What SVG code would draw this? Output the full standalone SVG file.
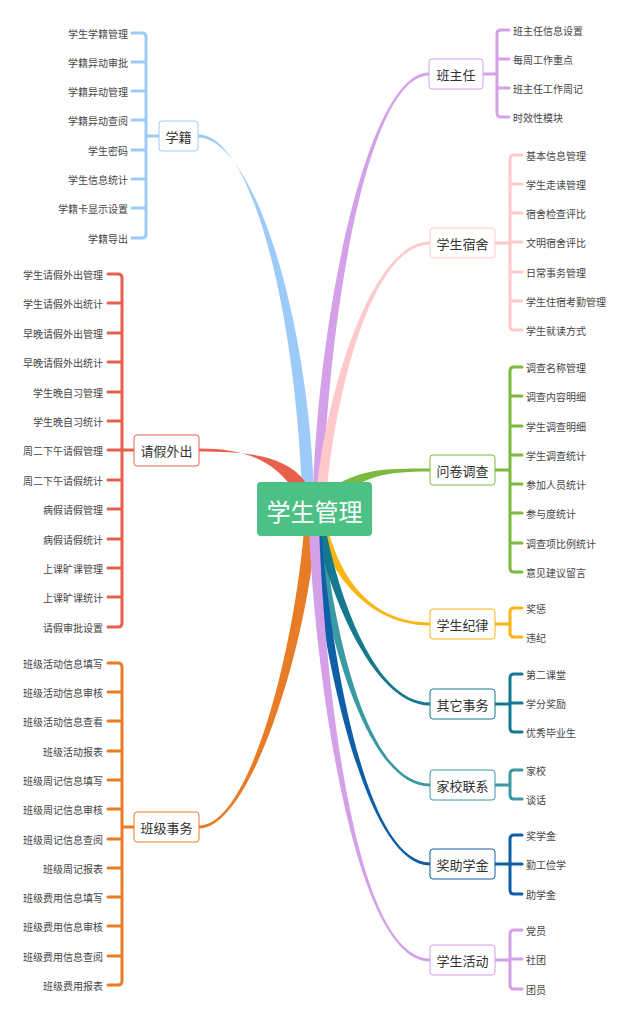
<svg xmlns="http://www.w3.org/2000/svg" width="632" height="1024" viewBox="0 0 632 1024">
<style>
.n rect{fill:#fff;stroke-width:1;rx:3}
.n text{font-family:"Noto Sans CJK SC","Noto Sans",sans-serif;font-size:13px;fill:#333;text-anchor:middle;dominant-baseline:central}
.l{font-family:"Noto Sans CJK SC","Noto Sans",sans-serif;font-size:10px;fill:#444;dominant-baseline:central}
.L{text-anchor:end}
.b{fill:none;stroke-width:3;stroke-linecap:round;stroke-linejoin:round}
</style>
<rect width="632" height="1024" fill="#fff"/>
<g id="connectors">
<path fill="#9dcbf9" d="M198,134.5 C250,134.5 294,300 302,490 L314,490 C306,300 250,137.5 198,137.5 Z"/>
<path fill="#e8604c" d="M199,448.5 C250,448.5 275,463 294,490 L305,481 C285,456 250,451.5 199,451.5 Z"/>
<path fill="#e87c26" d="M199,825.5 C250,825.5 294,650 304,530 L316,530 C306,650 250,828.5 199,828.5 Z"/>
<path fill="#d4a1e8" d="M429,72.5 C370,72.5 320,300 313,490 L323,490 C330,300 370,75.5 429,75.5 Z"/>
<path fill="#ffc9cc" d="M430,241.5 C370,241.5 325,400 317,490 L327,490 C335,400 370,244.5 430,244.5 Z"/>
<path fill="#7cba3d" d="M430,468.5 C380,468.5 360,469 326,491 L334,499 C367,477 380,471.5 430,471.5 Z"/>
<path fill="#fbb614" d="M430,622.5 C360,622.5 335,560 327,525 L317,525 C325,560 360,625.5 430,625.5 Z"/>
<path fill="#3a9aa3" d="M430,783.5 C360,783.5 330,600 323,525 L313,525 C320,600 360,786.5 430,786.5 Z"/>
<path fill="#14788f" d="M430,702.5 C370,702.5 335,580 325,525 L315,525 C325,580 370,705.5 430,705.5 Z"/>
<path fill="#0f5ea8" d="M430,862.5 C360,862.5 327,620 321,525 L311,525 C317,620 360,865.5 430,865.5 Z"/>
<path fill="#d4a1e8" d="M430,958.5 C350,958.5 323,650 319,525 L309,525 C313,650 350,961.5 430,961.5 Z"/>
<path class="b" stroke="#9dcbf9" d="M132,33 H142 Q146,33 146,37 V234 Q146,238 142,238 H132 M132,62 H146 M132,91 H146 M132,120 H146 M132,150 H146 M132,179 H146 M132,208 H146 M146,136 H159"/>
<path class="b" stroke="#e8604c" d="M108,274 H118 Q122,274 122,278 V623 Q122,627 118,627 H108 M108,303 H122 M108,333 H122 M108,362 H122 M108,392 H122 M108,421 H122 M108,450 H122 M108,480 H122 M108,509 H122 M108,539 H122 M108,568 H122 M108,597 H122 M122,450 H134"/>
<path class="b" stroke="#e87c26" d="M108,663 H118 Q122,663 122,667 V981 Q122,985 118,985 H108 M108,692 H122 M108,721 H122 M108,751 H122 M108,780 H122 M108,809 H122 M108,839 H122 M108,868 H122 M108,897 H122 M108,926 H122 M108,956 H122 M122,827 H134"/>
<path class="b" stroke="#d4a1e8" d="M509,30 H501 Q497,30 497,34 V113 Q497,117 501,117 H509 M509,59 H497 M509,88 H497 M497,74 H483"/>
<path class="b" stroke="#ffc9cc" d="M522,155 H514 Q510,155 510,159 V326 Q510,330 514,330 H522 M522,184 H510 M522,213 H510 M522,242 H510 M522,272 H510 M522,301 H510 M510,243 H495"/>
<path class="b" stroke="#7cba3d" d="M522,367 H514 Q510,367 510,371 V568 Q510,572 514,572 H522 M522,396 H510 M522,426 H510 M522,455 H510 M522,484 H510 M522,513 H510 M522,543 H510 M510,470 H495"/>
<path class="b" stroke="#fbb614" d="M522,608 H514 Q510,608 510,612 V633 Q510,637 514,637 H522 M510,624 H495"/>
<path class="b" stroke="#14788f" d="M522,674 H514 Q510,674 510,678 V728 Q510,732 514,732 H522 M522,703 H510 M510,704 H495"/>
<path class="b" stroke="#3a9aa3" d="M522,770 H514 Q510,770 510,774 V795 Q510,799 514,799 H522 M510,785 H495"/>
<path class="b" stroke="#0f5ea8" d="M522,835 H514 Q510,835 510,839 V890 Q510,894 514,894 H522 M522,864 H510 M510,864 H495"/>
<path class="b" stroke="#d4a1e8" d="M522,930 H514 Q510,930 510,934 V985 Q510,989 514,989 H522 M522,959 H510 M510,960 H495"/>
</g>
<g id="root"><rect x="257" y="482" width="115" height="54" rx="4" fill="#4dc086"/><text x="314.5" y="510" font-family="Noto Sans CJK SC,sans-serif" font-size="24" fill="#fff" text-anchor="middle" dominant-baseline="central">学生管理</text></g>
<g id="n-xueji" class="n"><rect x="159" y="121" width="39" height="30" stroke="#9dcbf9"/><text x="178.5" y="136">学籍</text></g>
<g id="n-qingjia" class="n"><rect x="134" y="435" width="65" height="31" stroke="#e8604c"/><text x="166.5" y="450">请假外出</text></g>
<g id="n-banji" class="n"><rect x="134" y="812" width="65" height="30" stroke="#e87c26"/><text x="166.5" y="827">班级事务</text></g>
<g id="n-bzr" class="n"><rect x="429" y="59" width="54" height="30" stroke="#d4a1e8"/><text x="456" y="74">班主任</text></g>
<g id="n-sushe" class="n"><rect x="430" y="228" width="65" height="30" stroke="#ffc9cc"/><text x="462.5" y="243">学生宿舍</text></g>
<g id="n-wenjuan" class="n"><rect x="430" y="455" width="65" height="30" stroke="#7cba3d"/><text x="462.5" y="470">问卷调查</text></g>
<g id="n-jilv" class="n"><rect x="430" y="609" width="65" height="30" stroke="#fbb614"/><text x="462.5" y="624">学生纪律</text></g>
<g id="n-qita" class="n"><rect x="430" y="689" width="65" height="30" stroke="#14788f"/><text x="462.5" y="704">其它事务</text></g>
<g id="n-jiaxiao" class="n"><rect x="430" y="770" width="65" height="30" stroke="#3a9aa3"/><text x="462.5" y="785">家校联系</text></g>
<g id="n-jiangzhu" class="n"><rect x="430" y="849" width="65" height="30" stroke="#0f5ea8"/><text x="462.5" y="864">奖助学金</text></g>
<g id="n-huodong" class="n"><rect x="430" y="945" width="65" height="30" stroke="#d4a1e8"/><text x="462.5" y="960">学生活动</text></g>
<g id="leaves-left" class="l L">
<text x="128" y="33">学生学籍管理</text><text x="128" y="62">学籍异动审批</text><text x="128" y="91">学籍异动管理</text><text x="128" y="120">学籍异动查阅</text><text x="128" y="150">学生密码</text><text x="128" y="179">学生信息统计</text><text x="128" y="208">学籍卡显示设置</text><text x="128" y="238">学籍导出</text>
<text x="103" y="274">学生请假外出管理</text><text x="103" y="303">学生请假外出统计</text><text x="103" y="333">早晚请假外出管理</text><text x="103" y="362">早晚请假外出统计</text><text x="103" y="392">学生晚自习管理</text><text x="103" y="421">学生晚自习统计</text><text x="103" y="450">周二下午请假管理</text><text x="103" y="480">周二下午请假统计</text><text x="103" y="509">病假请假管理</text><text x="103" y="539">病假请假统计</text><text x="103" y="568">上课旷课管理</text><text x="103" y="597">上课旷课统计</text><text x="103" y="627">请假审批设置</text>
<text x="103" y="663">班级活动信息填写</text><text x="103" y="692">班级活动信息审核</text><text x="103" y="721">班级活动信息查看</text><text x="103" y="751">班级活动报表</text><text x="103" y="780">班级周记信息填写</text><text x="103" y="809">班级周记信息审核</text><text x="103" y="839">班级周记信息查阅</text><text x="103" y="868">班级周记报表</text><text x="103" y="897">班级费用信息填写</text><text x="103" y="926">班级费用信息审核</text><text x="103" y="956">班级费用信息查阅</text><text x="103" y="985">班级费用报表</text>
</g>
<g id="leaves-right" class="l">
<text x="513" y="30">班主任信息设置</text><text x="513" y="59">每周工作重点</text><text x="513" y="88">班主任工作周记</text><text x="513" y="117">时效性模块</text>
<text x="526" y="155">基本信息管理</text><text x="526" y="184">学生走读管理</text><text x="526" y="213">宿舍检查评比</text><text x="526" y="242">文明宿舍评比</text><text x="526" y="272">日常事务管理</text><text x="526" y="301">学生住宿考勤管理</text><text x="526" y="330">学生就读方式</text>
<text x="526" y="367">调查名称管理</text><text x="526" y="396">调查内容明细</text><text x="526" y="426">学生调查明细</text><text x="526" y="455">学生调查统计</text><text x="526" y="484">参加人员统计</text><text x="526" y="513">参与度统计</text><text x="526" y="543">调查项比例统计</text><text x="526" y="572">意见建议留言</text>
<text x="526" y="608">奖惩</text><text x="526" y="637">违纪</text>
<text x="526" y="674">第二课堂</text><text x="526" y="703">学分奖励</text><text x="526" y="732">优秀毕业生</text>
<text x="526" y="770">家校</text><text x="526" y="799">谈话</text>
<text x="526" y="835">奖学金</text><text x="526" y="864">勤工俭学</text><text x="526" y="894">助学金</text>
<text x="526" y="930">党员</text><text x="526" y="959">社团</text><text x="526" y="989">团员</text>
</g>
</svg>
